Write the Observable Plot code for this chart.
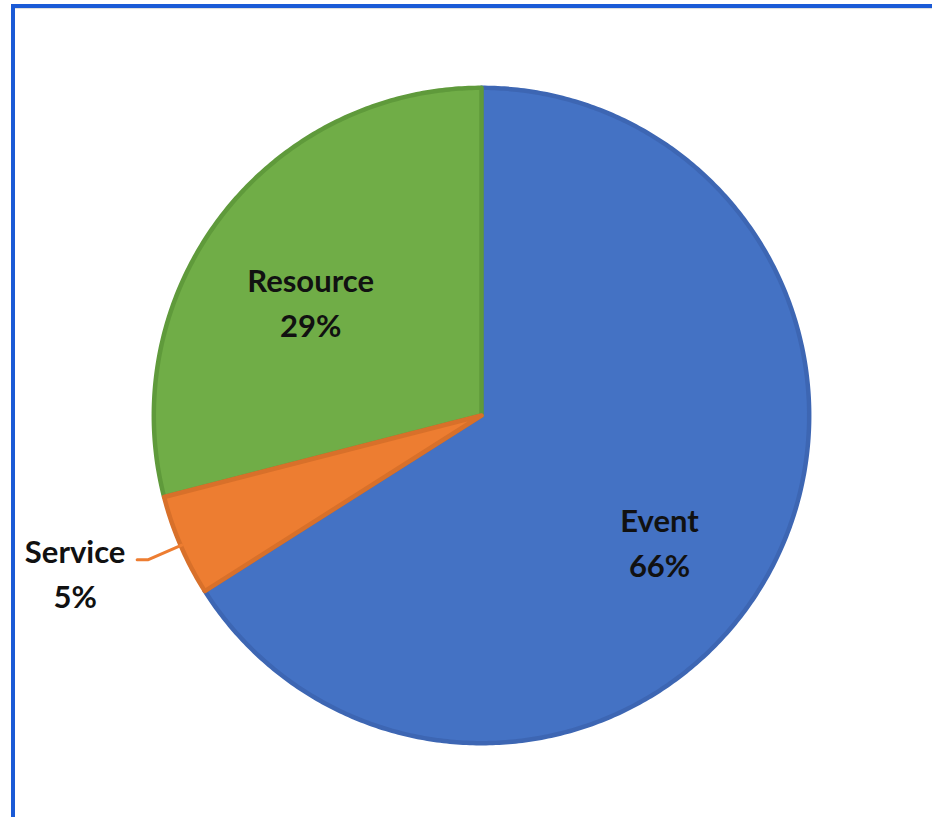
<!DOCTYPE html>
<html>
<head>
<meta charset="utf-8">
<script src="https://cdn.jsdelivr.net/npm/d3@7"></script>
<script src="https://cdn.jsdelivr.net/npm/@observablehq/plot@0.6"></script>
<style>
  html, body { margin: 0; padding: 0; background: #fff; }
  #wrap { position: relative; width: 932px; height: 817px; overflow: hidden; }
  #frame { position: absolute; left: 11px; top: 4px; right: -10px; bottom: -10px;
           border-top: 4px solid #1a5ad6; border-left: 4px solid #1a5ad6; pointer-events: none;
           box-shadow: inset 0 2px 1px -1px rgba(0,0,0,0.15); }
</style>
</head>
<body>
<div id="wrap"><div id="chart"></div><div id="frame"></div></div>
<script>
// Data
const categories = ["Event", "Service", "Resource"];
const values = [66, 5, 29];
// Styles
const fills = ["#4472C4", "#ED7D31", "#70AD47"];
const strokes = ["#3D66B3", "#D8702A", "#5F9A3B"];

const total = d3.sum(values);
const arcs = d3.pie().sort(null).value(d => d)(values);

// Build polygon rows in data units (unit circle, y up)
const R = 0.993;
const rows = [];
arcs.forEach((a, i) => {
  const name = categories[i];
  rows.push({name, x: 0, y: 0});
  const n = Math.max(4, Math.ceil((a.endAngle - a.startAngle) / 0.01));
  for (let k = 0; k <= n; k++) {
    const t = a.startAngle + (a.endAngle - a.startAngle) * k / n;
    rows.push({name, x: R * Math.sin(t), y: R * Math.cos(t)});
  }
  rows.push({name, x: 0, y: 0});
});

const mid = a => (a.startAngle + a.endAngle) / 2;
const pct = v => Math.round(v / total * 100) + "%";

// Inside labels
const inside = arcs.map((a, i) => ({i, a})).filter(d => categories[d.i] !== "Service").map(d => {
  const r = 0.64;
  const t = mid(d.a);
  return {x: r * Math.sin(t), y: r * Math.cos(t), label: categories[d.i] + "\n" + pct(values[d.i]), name: categories[d.i]};
});

// Outside label for Service with leader line
const si = categories.indexOf("Service");
const ts = mid(arcs[si]);
const leader = [
  {x: 0.99 * Math.sin(ts), y: 0.99 * Math.cos(ts)},
  {x: 1.1 * Math.sin(ts), y: 1.1 * Math.cos(ts)},
  {x: 1.1 * Math.sin(ts) - 0.034, y: 1.1 * Math.cos(ts)}
];
const outside = [{x: leader[2].x, y: leader[2].y, label: categories[si] + "\n" + pct(values[si])}];

const order = [0, 2, 1];
const sliceMarks = order.map(i => Plot.line(rows.filter(d => d.name === categories[i]), {
  x: "x", y: "y", fill: fills[i], stroke: strokes[i], strokeWidth: 4.5, strokeLinejoin: "round", curve: "linear"
}));

const font = {fontFamily: "Lato, 'Noto Sans', sans-serif", fontSize: 31, fontWeight: "bold", fill: "#111", lineHeight: 1.45};

const chart = Plot.plot({
  width: 932,
  height: 817,
  marginLeft: 151,
  marginRight: 121,
  marginTop: 85,
  marginBottom: 72,
  x: {domain: [-1, 1], axis: null},
  y: {domain: [-1, 1], axis: null},
  marks: [
    ...sliceMarks,
    Plot.line(leader, {x: "x", y: "y", stroke: "#ED7D31", strokeWidth: 3}),
    Plot.text(inside.filter(d => d.name === "Event"), {x: "x", y: "y", text: "label", ...font, dx: -7, dy: 23}),
    Plot.text(inside.filter(d => d.name === "Resource"), {x: "x", y: "y", text: "label", ...font, dx: -4, dy: 14}),
    Plot.text(outside, {x: "x", y: "y", text: "label", ...font, dx: -62, dy: 11})
  ],
  style: {background: "transparent"}
});
document.getElementById("chart").appendChild(chart);
</script>
</body>
</html>
